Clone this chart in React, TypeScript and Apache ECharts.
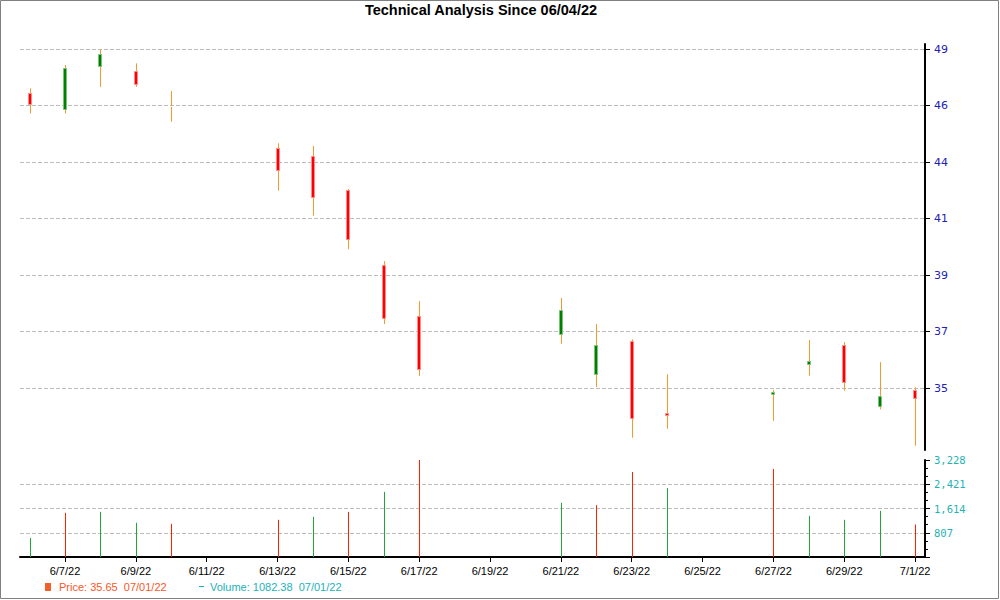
import React, { useEffect, useRef } from "react";
import * as echarts from "echarts";

// ---------- data ----------
const dates = [
  "2022-06-06", "2022-06-07", "2022-06-08", "2022-06-09", "2022-06-10",
  "2022-06-13", "2022-06-14", "2022-06-15", "2022-06-16", "2022-06-17",
  "2022-06-21", "2022-06-22", "2022-06-23", "2022-06-24",
  "2022-06-27", "2022-06-28", "2022-06-29", "2022-06-30", "2022-07-01",
];
const openPrices = [47.17, 46.51, 48.29, 48.08, 46.65, 44.9, 44.59, 43.19, 40.07, 37.96, 37.23, 35.57, 36.93, 33.98, 34.76, 35.98, 36.76, 34.24, 34.9];
const closePrices = [46.73, 48.2, 48.78, 47.54, 46.65, 44.0, 42.88, 41.15, 37.88, 35.77, 38.21, 36.76, 33.76, 33.9, 34.82, 36.1, 35.25, 34.66, 34.57];
const highPrices = [47.38, 48.34, 49.0, 48.41, 47.27, 45.11, 45.0, 43.22, 40.24, 38.59, 38.72, 37.64, 37.01, 35.57, 34.92, 36.98, 36.9, 36.07, 35.03];
const lowPrices = [46.34, 46.34, 47.44, 47.44, 46.0, 43.15, 42.12, 40.73, 37.64, 35.5, 36.83, 35.04, 32.95, 33.32, 33.65, 35.51, 34.89, 34.12, 32.62];
const volumes = [630, 1470, 1503, 1138, 1105, 1238, 1337, 1503, 2167, 3228, 1802, 1725, 2830, 2290, 2930, 1370, 1238, 1536, 1082.38];
const volumeUp = [true, false, true, true, false, false, true, false, true, false, true, false, false, true, false, true, true, true, false];

const xTickDates = [
  "2022-06-07", "2022-06-09", "2022-06-11", "2022-06-13", "2022-06-15", "2022-06-17",
  "2022-06-19", "2022-06-21", "2022-06-23", "2022-06-25", "2022-06-27", "2022-06-29", "2022-07-01",
];
const priceTickValues = [35, 37.3333, 39.6667, 42, 44.3333, 46.6667, 49];
const priceTickLabels = ["35", "37", "39", "41", "44", "46", "49"];
const volumeMax = 3228;
const volumeInterval = 807;

const titleText = "Technical Analysis Since 06/04/22";
const priceLegendText = "Price: 35.65  07/01/22";
const volumeLegendText = "Volume: 1082.38  07/01/22";

// ---------- helpers ----------
const DAY = 86400000;
const dayNum = (s: string) => {
  const [y, m, d] = s.split("-").map(Number);
  return Date.UTC(y, m - 1, d) / DAY;
};
const fmtDay = (v: number) => {
  const d = new Date(Math.round(v) * DAY);
  return `${d.getUTCMonth() + 1}/${d.getUTCDate()}/${String(d.getUTCFullYear()).slice(2)}`;
};

const WICK = "#f39a2c";
const UP_FILL = "#008000";
const UP_EDGE = "#7cc07c";
const DOWN_FILL = "#ff0000";
const DOWN_EDGE = "#ff8c8c";
const VOL_UP = "#1ea83c";
const VOL_DOWN = "#ff2200";
const GRID_LINE = { color: "#bdbdbd", type: [4, 2] as any, width: 1 };

export default function App() {
  const ref = useRef<HTMLDivElement>(null);

  useEffect(() => {
    if (!ref.current) return;
    const chart = echarts.init(ref.current, undefined, { renderer: "svg" });

    const xs = dates.map(dayNum);
    const xMin = dayNum("2022-06-07") - 1.27;
    const xMax = dayNum("2022-07-01") + 0.28;
    const xTicks = xTickDates.map(dayNum);

    const candleData = xs.map((x, i) => [x, openPrices[i], closePrices[i], lowPrices[i], highPrices[i]]);
    const volumeData = xs.map((x, i) => [x, volumes[i], volumeUp[i] ? 1 : 0]);

    const option: any = {
      animation: false,
      backgroundColor: "#ffffff",
      grid: [
        { left: 20, top: 44, width: 905, height: 406 },
        { left: 20, top: 460, width: 905, height: 97 },
      ],
      xAxis: [
        { type: "value", gridIndex: 0, min: xMin, max: xMax, show: false, splitLine: { show: false } },
        {
          type: "value",
          gridIndex: 1,
          min: xMin,
          max: xMax,
          axisLine: { show: true, onZero: false, lineStyle: { color: "#000", width: 2 } },
          axisTick: { show: true, customValues: xTicks, length: 5, lineStyle: { color: "#000", width: 1 } },
          axisLabel: {
            customValues: xTicks,
            formatter: (v: number) => fmtDay(v),
            color: "#000",
            fontFamily: "Liberation Sans",
            fontSize: 11,
            margin: 8,
          },
          splitLine: { show: false },
        },
      ],
      yAxis: [
        {
          type: "value",
          gridIndex: 0,
          position: "right",
          min: 32.44,
          max: 49.21,
          axisLine: { show: true, lineStyle: { color: "#000", width: 2 } },
          axisTick: { show: true, customValues: priceTickValues, length: 5, lineStyle: { color: "#000" } },
          axisLabel: {
            customValues: priceTickValues,
            formatter: (v: number) => {
              const i = priceTickValues.findIndex((t) => Math.abs(t - v) < 1e-3);
              return i >= 0 ? priceTickLabels[i] : "";
            },
            color: "#2222b0",
            fontFamily: "DejaVu Sans",
            fontSize: 11,
            margin: 9,
          },
          splitLine: { show: true, lineStyle: GRID_LINE },
        },
        {
          type: "value",
          gridIndex: 1,
          position: "right",
          min: 0,
          max: volumeMax,
          interval: volumeInterval,
          axisLine: { show: true, lineStyle: { color: "#000", width: 2 } },
          axisTick: { show: true, length: 5, lineStyle: { color: "#000" } },
          minorTick: { show: true, splitNumber: 3, length: 3, lineStyle: { color: "#000" } },
          axisLabel: {
            showMinLabel: false,
            formatter: (v: number) => (v === 0 ? "" : Math.round(v).toLocaleString("en-US")),
            color: "#1fb3b3",
            fontFamily: "DejaVu Sans Mono",
            fontSize: 10.5,
            margin: 9,
          },
          splitLine: { show: true, showMinLine: false, showMaxLine: false, lineStyle: GRID_LINE },
        },
      ],
      series: [
        {
          type: "custom",
          name: "Price",
          xAxisIndex: 0,
          yAxisIndex: 0,
          encode: { x: 0, y: [1, 2, 3, 4] },
          data: candleData,
          renderItem: (params: any, api: any) => {
            const x = api.value(0);
            const o = api.value(1);
            const c = api.value(2);
            const l = api.value(3);
            const h = api.value(4);
            const pH = api.coord([x, h]);
            const pL = api.coord([x, l]);
            const pO = api.coord([x, o]);
            const pC = api.coord([x, c]);
            const R = Math.round(pH[0]);
            const top = Math.round(Math.min(pO[1], pC[1])) + 0.5;
            const bot = Math.round(Math.max(pO[1], pC[1])) + 0.5;
            const up = c > o;
            const down = c < o;
            const children: any[] = [
              {
                type: "line",
                shape: { x1: R + 0.5, y1: pH[1], x2: R + 0.5, y2: pL[1] },
                style: { stroke: WICK, lineWidth: 1 },
              },
            ];
            if (up || down) {
              children.push({
                type: "rect",
                shape: { x: R - 1.5, y: top, width: 3, height: Math.max(bot - top, 1) },
                style: { fill: up ? UP_FILL : DOWN_FILL, stroke: up ? UP_EDGE : DOWN_EDGE, lineWidth: 1 },
              });
            } else {
              children.push({
                type: "rect",
                shape: { x: R - 1, y: Math.round(pO[1]), width: 3, height: 1 },
                style: { fill: "#ffffff" },
              });
            }
            return { type: "group", children };
          },
        },
        {
          type: "custom",
          name: "Volume",
          xAxisIndex: 1,
          yAxisIndex: 1,
          encode: { x: 0, y: 1 },
          data: volumeData,
          renderItem: (params: any, api: any) => {
            const x = api.value(0);
            const v = api.value(1);
            const isUp = api.value(2) === 1;
            const p0 = api.coord([x, 0]);
            const p1 = api.coord([x, v]);
            const R = Math.round(p0[0]);
            return {
              type: "line",
              shape: { x1: R + 0.5, y1: p0[1], x2: R + 0.5, y2: p1[1] },
              style: { stroke: isUp ? VOL_UP : VOL_DOWN, lineWidth: 1 },
            };
          },
        },
      ],
      graphic: [
        {
          type: "rect",
          silent: true,
          shape: { x: 0.5, y: 0.5, width: 998, height: 598 },
          style: { fill: "none", stroke: "#808080", lineWidth: 1 },
        },
        {
          type: "text",
          x: 481,
          y: 2,
          style: {
            text: titleText,
            fill: "#000",
            fontFamily: "Liberation Sans",
            fontWeight: "bold",
            fontSize: 14.5,
            align: "center",
            verticalAlign: "top",
          },
        },
        {
          type: "rect",
          shape: { x: 45, y: 583, width: 6, height: 8 },
          style: { fill: "#f4602c" },
        },
        {
          type: "text",
          x: 59,
          y: 587,
          style: {
            text: priceLegendText,
            fill: "#fa5528",
            fontFamily: "Liberation Sans",
            fontSize: 11,
            align: "left",
            verticalAlign: "middle",
          },
        },
        {
          type: "line",
          shape: { x1: 199, y1: 586.5, x2: 204, y2: 586.5 },
          style: { stroke: "#1ab2b8", lineWidth: 1 },
        },
        {
          type: "text",
          x: 210,
          y: 587,
          style: {
            text: volumeLegendText,
            fill: "#1ab2b8",
            fontFamily: "Liberation Sans",
            fontSize: 11,
            align: "left",
            verticalAlign: "middle",
          },
        },
      ],
    };

    chart.setOption(option);
    return () => chart.dispose();
  }, []);

  return (
    <div
      ref={ref}
      style={{ position: "absolute", left: 0, top: 0, width: 1000, height: 600, background: "#fff" }}
    />
  );
}
